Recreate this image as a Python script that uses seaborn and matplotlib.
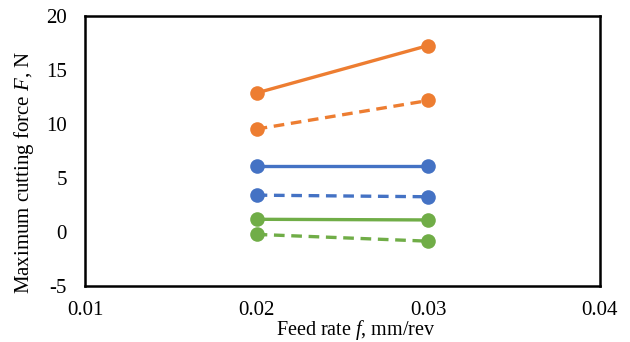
import matplotlib
matplotlib.use("Agg")
import matplotlib.pyplot as plt
import seaborn as sns
import pandas as pd

feed = [0.02, 0.03]
orange_solid = [12.9, 17.3]
orange_dashed = [9.55, 12.2]
blue_solid = [6.15, 6.15]
blue_dashed = [3.42, 3.27]
green_solid = [1.18, 1.12]
green_dashed = [-0.22, -0.85]

xticks = [0.01, 0.02, 0.03, 0.04]
yticks = [-5, 0, 5, 10, 15, 20]

series = [
    (orange_solid, "#ED7D31", "-"),
    (orange_dashed, "#ED7D31", "--"),
    (blue_solid, "#4472C4", "-"),
    (blue_dashed, "#4472C4", "--"),
    (green_solid, "#70AD47", "-"),
    (green_dashed, "#70AD47", "--"),
]

sns.set_theme(style="white")
plt.rcParams["font.family"] = ["Liberation Serif", "DejaVu Serif"]
plt.rcParams["mathtext.fontset"] = "custom"
plt.rcParams["mathtext.rm"] = "Liberation Serif"
plt.rcParams["mathtext.it"] = "Liberation Serif:italic"

fig = plt.figure(figsize=(6.3, 3.42), dpi=100)
ax = fig.add_axes([0.135, 0.164, 0.817, 0.788])

for vals, color, ls in series:
    df = pd.DataFrame({"x": feed, "y": vals})
    sns.lineplot(data=df, x="x", y="y", ax=ax, color=color, linewidth=2.4,
                 marker="o", markersize=10.5, markeredgewidth=0,
                 dashes=False, linestyle=ls)
    if ls == "--":
        ax.lines[-1].set_dashes((3.2, 2.0))

ax.set_xlim(0.01, 0.04)
ax.set_ylim(-5, 20)
ax.set_xticks(xticks)
ax.set_xticklabels([f"{v:.2f}" for v in xticks])
ax.set_yticks(yticks)
ax.set_yticklabels([str(v) for v in yticks])
ax.tick_params(direction="in", length=5, width=1.3, colors="black",
               labelsize=15)
ax.tick_params(axis="y", pad=13)
ax.tick_params(axis="x", pad=11)

for sp in ax.spines.values():
    sp.set_color("black")
    sp.set_linewidth(1.8)

ax.set_xlabel("Feed rate $f$, mm/rev", fontsize=14.5, color="black")
ax.set_ylabel("Maximum cutting force $F$, N", fontsize=15, color="black")
ax.xaxis.set_label_coords(0.526, -0.118)
ax.yaxis.set_label_coords(-0.095, 0.42)

fig.savefig("out.png", dpi=100, facecolor="white")
